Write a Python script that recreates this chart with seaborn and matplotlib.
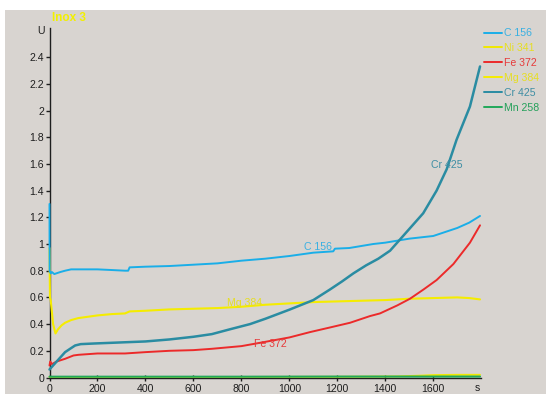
import matplotlib
matplotlib.use("Agg")
import matplotlib.pyplot as plt
import seaborn as sns
import pandas as pd
from matplotlib.patches import Rectangle
from matplotlib.lines import Line2D

# Emission intensity (U) versus sputter time (s) for sample "Inox 3"
c156_t = [0, 0.5, 5, 10, 20, 45, 65, 90, 120, 160, 200, 260, 315, 328, 334, 400, 500, 600, 700, 800,
          900, 1000, 1100, 1183, 1190, 1250, 1300, 1350, 1400, 1450, 1500, 1550, 1600, 1650, 1700, 1750, 1795]
c156_v = [1.30, 0.80, 0.78, 0.79, 0.775, 0.79, 0.80, 0.81, 0.81, 0.81, 0.81, 0.805, 0.80, 0.80, 0.825, 0.83,
          0.835, 0.845, 0.855, 0.875, 0.89, 0.91, 0.935, 0.945, 0.965, 0.97, 0.985, 1.0, 1.01, 1.025, 1.04,
          1.05, 1.06, 1.09, 1.12, 1.16, 1.21]

mg384_t = [0, 2, 5, 15, 25, 35, 50, 65, 90, 120, 160, 200, 260, 315, 334, 400, 500, 600, 700, 800, 900,
           1000, 1100, 1200, 1300, 1400, 1500, 1600, 1700, 1750, 1795]
mg384_v = [0.97, 0.60, 0.58, 0.40, 0.33, 0.36, 0.39, 0.41, 0.43, 0.445, 0.455, 0.465, 0.475, 0.48, 0.495,
           0.50, 0.51, 0.515, 0.52, 0.53, 0.545, 0.555, 0.565, 0.57, 0.575, 0.58, 0.59, 0.595, 0.60, 0.595, 0.585]

cr425_t = [0, 10, 30, 50, 65, 90, 107, 130, 190, 260, 330, 400, 500, 600, 677, 750, 836, 900, 1003, 1100,
           1170, 1220, 1267, 1320, 1371, 1420, 1489, 1558, 1614, 1656, 1697, 1753, 1795]
cr425_v = [0.06, 0.08, 0.12, 0.16, 0.19, 0.22, 0.24, 0.25, 0.255, 0.26, 0.265, 0.27, 0.285, 0.305, 0.325,
           0.36, 0.40, 0.44, 0.51, 0.58, 0.66, 0.72, 0.78, 0.84, 0.89, 0.95, 1.09, 1.23, 1.40, 1.56, 1.78,
           2.03, 2.33]

fe372_t = [0, 3, 10, 30, 65, 100, 121, 200, 315, 400, 500, 600, 677, 800, 878, 1000, 1086, 1170, 1253,
           1336, 1378, 1450, 1503, 1560, 1614, 1684, 1753, 1795]
fe372_v = [0.09, 0.12, 0.10, 0.12, 0.14, 0.165, 0.17, 0.18, 0.18, 0.19, 0.20, 0.205, 0.215, 0.235, 0.26,
           0.30, 0.34, 0.375, 0.41, 0.46, 0.48, 0.54, 0.59, 0.66, 0.73, 0.85, 1.01, 1.14]

ni341_t = [0, 400, 800, 1200, 1450, 1550, 1600, 1700, 1795]
ni341_v = [0.004, 0.004, 0.004, 0.005, 0.008, 0.014, 0.018, 0.02, 0.02]

mn258_t = [0, 400, 800, 1200, 1600, 1795]
mn258_v = [0.006, 0.006, 0.006, 0.007, 0.007, 0.007]

legend_labels = ["C 156", "Ni 341", "Fe 372", "Mg 384", "Cr 425", "Mn 258"]
x_ticks = [0, 200, 400, 600, 800, 1000, 1200, 1400, 1600]
y_ticks = [0, 0.2, 0.4, 0.6, 0.8, 1, 1.2, 1.4, 1.6, 1.8, 2, 2.2, 2.4]
y_tick_labels = ["0", "0.2", "0.4", "0.6", "0.8", "1", "1.2", "1.4", "1.6", "1.8", "2", "2.2", "2.4"]

colors = {
    "C 156": "#1aaee8",
    "Ni 341": "#f0e800",
    "Fe 372": "#ec2a2a",
    "Mg 384": "#f5ec00",
    "Cr 425": "#2a8ca2",
    "Mn 258": "#22a85a",
}
text_colors = {
    "C 156": "#3ab0e2",
    "Ni 341": "#e6de22",
    "Fe 372": "#e63a3a",
    "Mg 384": "#e6de22",
    "Cr 425": "#3f8ea4",
    "Mn 258": "#24a05a",
}

series = {
    "C 156": (c156_t, c156_v),
    "Ni 341": (ni341_t, ni341_v),
    "Fe 372": (fe372_t, fe372_v),
    "Mg 384": (mg384_t, mg384_v),
    "Cr 425": (cr425_t, cr425_v),
    "Mn 258": (mn258_t, mn258_v),
}
widths = {"C 156": 1.4, "Ni 341": 1.4, "Fe 372": 1.4, "Mg 384": 1.5, "Cr 425": 1.8, "Mn 258": 1.5}

sns.set_style("white")
plt.rcParams["font.family"] = ["Liberation Sans", "DejaVu Sans"]

bg = "#d8d4d0"
fig = plt.figure(figsize=(5.46, 3.94), dpi=100, facecolor="white")
fig.patches.append(Rectangle((5 / 546, 0), 1, 1 - 10 / 394, transform=fig.transFigure,
                             facecolor=bg, edgecolor="none", zorder=-5))

ax = fig.add_axes([49.5 / 546, 1 - 377.5 / 394, (480.5 - 49.5) / 546, (377.5 - 28) / 394])
ax.set_facecolor("none")
ax.set_zorder(1)

draw_order = ["Ni 341", "Mn 258", "Mg 384", "Fe 372", "C 156", "Cr 425"]
for name in draw_order:
    t, v = series[name]
    df = pd.DataFrame({"t": t, "v": v})
    sns.lineplot(data=df, x="t", y="v", ax=ax, color=colors[name], lw=widths[name],
                 legend=False, sort=False, estimator=None, clip_on=False, zorder=3)

ax.set_xlim(0, 1797)
ax.set_ylim(0, 2.618)
ax.set_xlabel("")
ax.set_ylabel("")

for side in ["top", "right"]:
    ax.spines[side].set_visible(False)
for side in ["left", "bottom"]:
    ax.spines[side].set_color("#1e1e1e")
    ax.spines[side].set_linewidth(1.0)
    ax.spines[side].set_zorder(2)

ax.set_xticks(x_ticks)
ax.set_xticklabels([str(x) for x in x_ticks])
ax.set_yticks(y_ticks)
ax.set_yticklabels(y_tick_labels)
ax.tick_params(axis="x", direction="inout", length=5, width=1, color="#1e1e1e",
               labelsize=7.6, labelcolor="#1e1e1e", pad=2, bottom=True)
ax.tick_params(axis="y", direction="out", length=3, width=1, color="#1e1e1e",
               labelsize=7.6, labelcolor="#1e1e1e", pad=1, left=True)

# axis unit markers
fig.text(41 / 546, 1 - 31 / 394, "U", fontsize=7.6, color="#1e1e1e", ha="center", va="center")
fig.text(477 / 546, 1 - 388 / 394, "s", fontsize=7.6, color="#1e1e1e", ha="center", va="center")

# sample title
fig.text(52 / 546, 1 - 18 / 394, "Inox 3", fontsize=8.5, fontweight="bold", color="#f2f000",
         ha="left", va="center")

# inline curve labels
ax.text(1120, 0.98, "C 156", fontsize=7.6, color=text_colors["C 156"], ha="center", va="center", zorder=4)
ax.text(815, 0.555, "Mg 384", fontsize=7.6, color=text_colors["Mg 384"], ha="center", va="center", zorder=4)
ax.text(920, 0.25, "Fe 372", fontsize=7.6, color=text_colors["Fe 372"], ha="center", va="center", zorder=4)
ax.text(1657, 1.59, "Cr 425", fontsize=7.6, color=text_colors["Cr 425"], ha="center", va="center", zorder=4)

handles = [Line2D([0], [0], color=colors[n], lw=1.4) for n in legend_labels]
leg = fig.legend(handles, legend_labels, loc="upper left",
                 bbox_to_anchor=(484 / 546, 1 - 28.3 / 394), frameon=False,
                 fontsize=7.6, handlelength=1.75, handletextpad=0.15,
                 labelspacing=0.46, borderpad=0, borderaxespad=0)
for txt, n in zip(leg.get_texts(), legend_labels):
    txt.set_color(text_colors[n])

fig.savefig("out.png", dpi=100, facecolor="white")
